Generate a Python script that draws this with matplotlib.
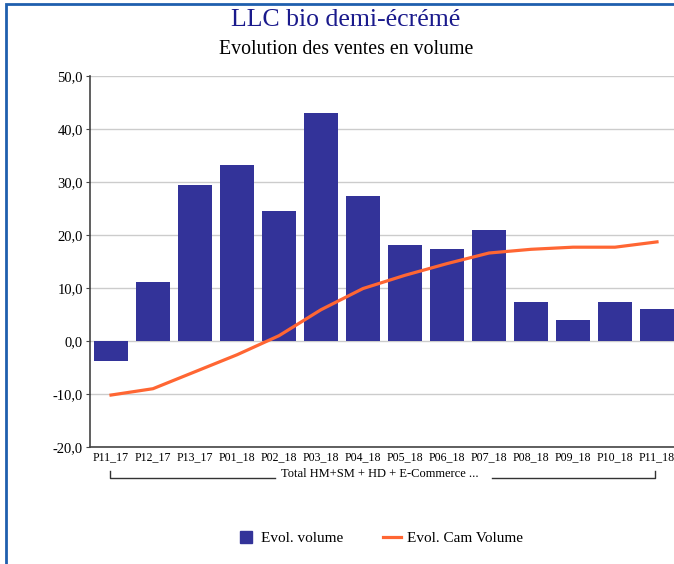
import numpy as np
import matplotlib.pyplot as plt
import matplotlib.patches as patches
from matplotlib.lines import Line2D

periods = ['P11_17', 'P12_17', 'P13_17', 'P01_18', 'P02_18', 'P03_18', 'P04_18',
           'P05_18', 'P06_18', 'P07_18', 'P08_18', 'P09_18', 'P10_18', 'P11_18']
evol_volume = [-3.8, 11.2, 29.5, 33.3, 24.6, 43.1, 27.3, 18.2, 17.3, 20.9, 7.3, 3.9, 7.3, 6.0]
evol_cam = [-10.2, -9.0, -5.8, -2.6, 1.0, 5.9, 9.9, 12.4, 14.6, 16.6, 17.3, 17.7, 17.7, 18.7]
yticks = [-20, -10, 0, 10, 20, 30, 40, 50]
group_label = 'Total HM+SM + HD + E-Commerce ...'

plt.rcParams['font.family'] = ['Liberation Serif', 'DejaVu Serif']

W, H = 674, 564
fig = plt.figure(figsize=(W / 100, H / 100), dpi=100)

# blue frame
fig.patches.append(patches.Rectangle((5.5 / W, -0.1), 1.2, 1 - 3.5 / H + 0.1,
                                     transform=fig.transFigure, fill=False,
                                     edgecolor='#1f5fae', linewidth=2))

ax = fig.add_axes([90 / W, (H - 447) / H, 588 / W, 371 / H])
x = np.arange(len(periods))
ax.bar(x, evol_volume, width=0.8, color='#333399', zorder=2)
line, = ax.plot(x, evol_cam, color='#ff6633', linewidth=2.3, zorder=3)

ax.set_xlim(-0.5, len(periods) - 0.5)
ax.set_ylim(-20, 50)
ax.set_yticks(yticks)
ax.set_yticklabels([f'{v:.1f}'.replace('.', ',') for v in yticks], fontsize=10.5)
ax.yaxis.grid(True, color='#cccccc', linewidth=1, zorder=0)
ax.set_axisbelow(True)
ax.set_xticks(x)
ax.set_xticklabels(periods, fontsize=8.6)
ax.tick_params(axis='x', length=0, pad=3)
ax.tick_params(axis='y', length=3, color='#444444', pad=2)
for s in ['top', 'right']:
    ax.spines[s].set_visible(False)
for s in ['left', 'bottom']:
    ax.spines[s].set_color('#444444')
    ax.spines[s].set_linewidth(1.2)

# group bracket
yb = (H - 478) / H
yt = (H - 471) / H
x0 = 110 / W
x1 = 655 / W
xc = 380 / W
fig.add_artist(plt.Line2D([x0, x0, 275 / W], [yt, yb, yb], color='#333333', lw=1))
fig.add_artist(plt.Line2D([492 / W, x1, x1], [yb, yb, yt], color='#333333', lw=1))
fig.text(xc, (H - 474) / H, group_label, ha='center', va='center', fontsize=9)

fig.text(346 / W, (H - 20) / H, 'LLC bio demi-écrémé', ha='center', va='center',
         fontsize=18.5, color='#1a1a8c')
fig.text(346 / W, (H - 49) / H, 'Evolution des ventes en volume', ha='center', va='center',
         fontsize=14.3, color='black')

sq = Line2D([], [], marker='s', linestyle='none', markersize=8.5, color='#333399')
fig.legend([sq, line], ['Evol. volume', 'Evol. Cam Volume'], loc='center',
           bbox_to_anchor=(380 / W, (H - 538) / H), ncol=2, frameon=False,
           fontsize=11, handlelength=1.2, columnspacing=2.6, handletextpad=0.4)

fig.savefig('out.png', dpi=100)
